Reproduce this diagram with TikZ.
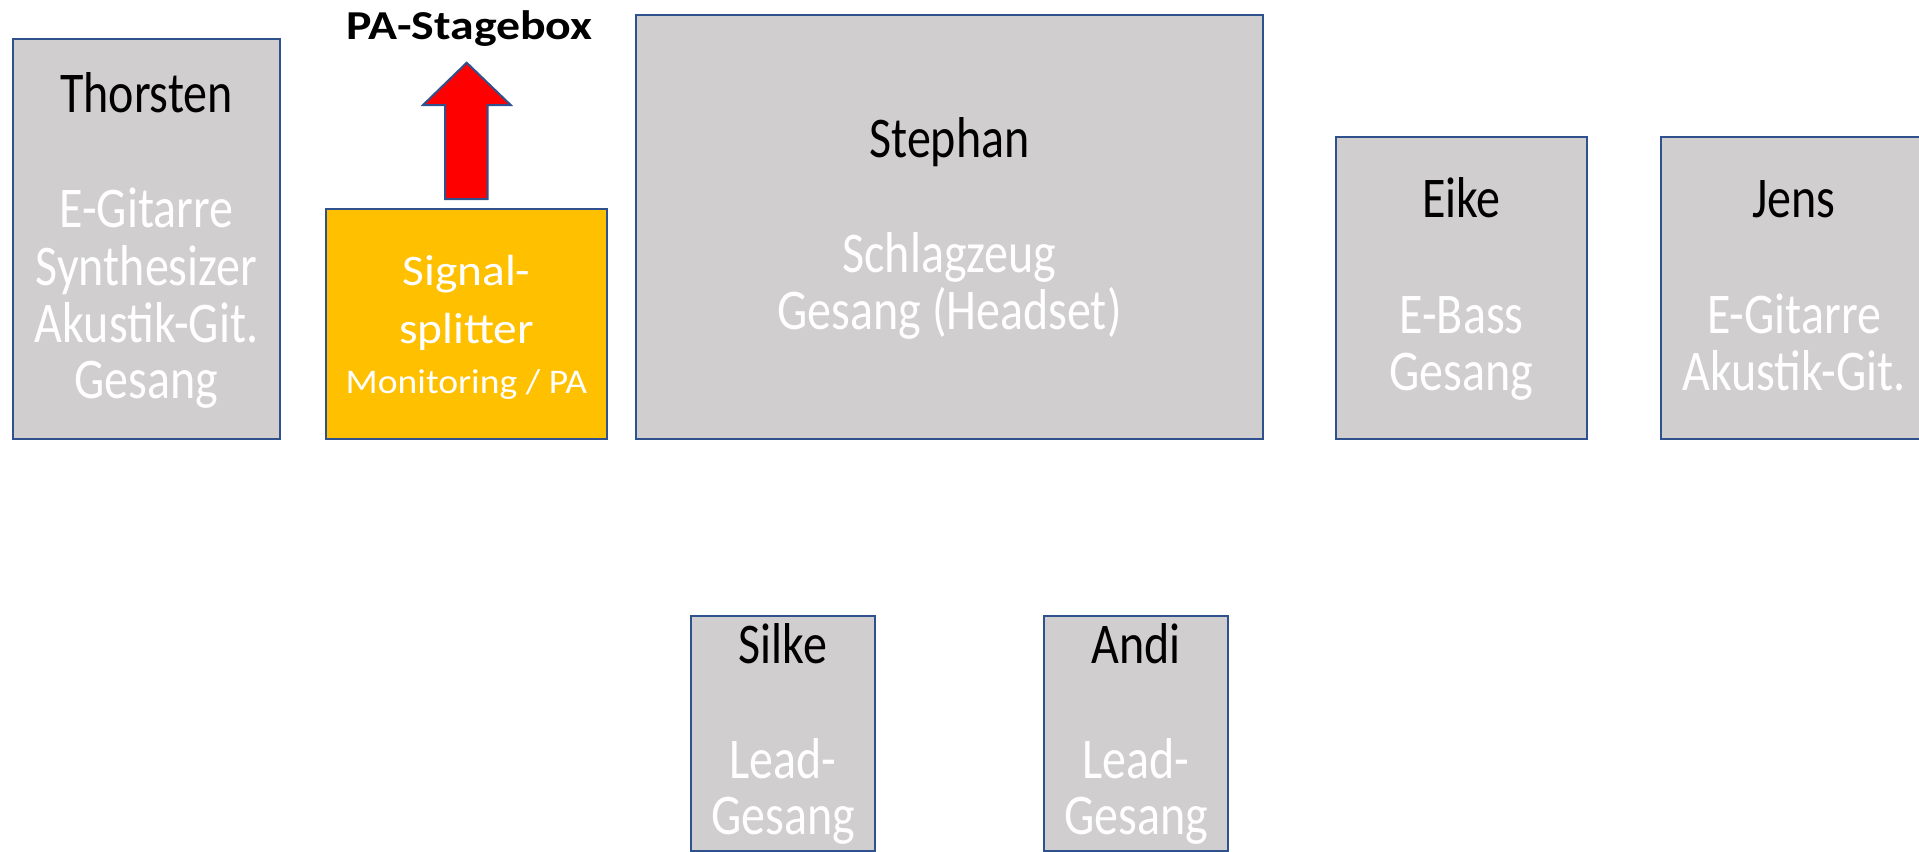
\documentclass[tikz,border=0pt]{standalone}
\usepackage{fontspec}
\setmainfont{Carlito}
\definecolor{boxgrey}{HTML}{D0CECE}
\definecolor{boxblue}{HTML}{2F528F}
\definecolor{splityellow}{HTML}{FFC000}
\definecolor{arrowred}{HTML}{FF0000}
\newcommand\gtxt[1]{\scalebox{1}[1.2]{#1}}
\newcommand\ytxt[1]{\scalebox{1}[0.92]{#1}}
\newcommand\ttxt[1]{\scalebox{1}[0.86]{#1}}
\begin{document}
\begin{tikzpicture}[x=0.5pt,y=-0.5pt,
  stagebox/.style={draw=boxblue,line width=1pt,fill=boxgrey},
  splitbox/.style={draw=boxblue,line width=1pt,fill=splityellow},
  pname/.style={anchor=base,inner sep=0pt,font=\fontsize{24}{29}\selectfont,text=black},
  pinst/.style={anchor=base,inner sep=0pt,font=\fontsize{24}{29}\selectfont,text=white},
  ysplit/.style={anchor=base,inner sep=0pt,font=\fontsize{23.7}{29}\selectfont,text=white},
  psmall/.style={anchor=base,inner sep=0pt,font=\fontsize{18.8}{22}\selectfont,text=white},
  ptitle/.style={anchor=base,inner sep=0pt,font=\fontsize{23.9}{28}\selectfont\bfseries,text=black}]
\useasboundingbox (0,0) rectangle (1919,852);
\begin{scope}
\clip (0,0) rectangle (1919,852);
% Thorsten
\draw[stagebox] (13,39) rectangle (280,439);
\node[pname] (thorsten) at (146.5,112) {\gtxt{Thorsten}};
\node[pinst] (th1) at (146.5,227) {\gtxt{E-Gitarre}};
\node[pinst] (th2) at (146.5,285) {\gtxt{Synthesizer}};
\node[pinst] (th3) at (146.5,342) {\gtxt{Akustik-Git.}};
\node[pinst] (th4) at (146.5,398) {\gtxt{Gesang}};
% Splitter
\draw[splitbox] (326,209) rectangle (607,439);
\node[ysplit] (sp1) at (466.5,285) {\ytxt{Signal-}};
\node[ysplit] (sp2) at (466.5,343) {\ytxt{splitter}};
\node[psmall] (sp3) at (466.5,393) {\ytxt{Monitoring / PA}};
% Arrow
\draw[draw=boxblue,line width=1pt,fill=arrowred]
  (445,199) -- (445,105) -- (423,105) -- (466.7,62.7) -- (510.7,105) -- (487.7,105) -- (487.7,199) -- cycle;
\node[ptitle] (pastage) at (469.5,39) {\ttxt{PA-Stagebox}};
% Stephan
\draw[stagebox] (636,15) rectangle (1263,439);
\node[pname] (stephan) at (949.5,157) {\gtxt{Stephan}};
\node[pinst] (st1) at (949.5,272) {\gtxt{Schlagzeug}};
\node[pinst] (st2) at (949.5,329) {\gtxt{Gesang (Headset)}};
% Eike
\draw[stagebox] (1336,137) rectangle (1587,439);
\node[pname] (eike) at (1461.5,217) {\gtxt{Eike}};
\node[pinst] (ei1) at (1461.5,333) {\gtxt{E-Bass}};
\node[pinst] (ei2) at (1461.5,390) {\gtxt{Gesang}};
% Jens
\draw[stagebox] (1661,137) rectangle (1930,439);
\node[pname] (jens) at (1794,217) {\gtxt{Jens}};
\node[pinst] (je1) at (1794,333) {\gtxt{E-Gitarre}};
\node[pinst] (je2) at (1794,390) {\gtxt{Akustik-Git.}};
% Silke
\draw[stagebox] (691,616) rectangle (875,851);
\node[pname] (silke) at (783,663) {\gtxt{Silke}};
\node[pinst] (si1) at (783,778) {\gtxt{Lead-}};
\node[pinst] (si2) at (783,834) {\gtxt{Gesang}};
% Andi
\draw[stagebox] (1044,616) rectangle (1228,851);
\node[pname] (andi) at (1136,663) {\gtxt{Andi}};
\node[pinst] (an1) at (1136,778) {\gtxt{Lead-}};
\node[pinst] (an2) at (1136,834) {\gtxt{Gesang}};
\end{scope}
\end{tikzpicture}
\end{document}
